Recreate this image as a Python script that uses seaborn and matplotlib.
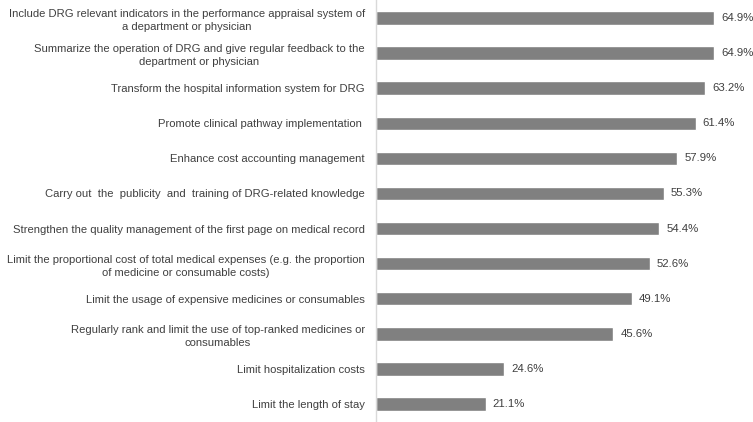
import pandas as pd
import seaborn as sns
from matplotlib import pyplot as plt

# Medidas de gestion DRG (porcentaje de hospitales)
medidas = [
    "Include DRG relevant indicators in the performance appraisal system of\na department or physician",
    "Summarize the operation of DRG and give regular feedback to the\ndepartment or physician",
    "Transform the hospital information system for DRG",
    "Promote clinical pathway implementation ",
    "Enhance cost accounting management",
    "Carry out  the  publicity  and  training of DRG-related knowledge",
    "Strengthen the quality management of the first page on medical record",
    "Limit the proportional cost of total medical expenses (e.g. the proportion\nof medicine or consumable costs)",
    "Limit the usage of expensive medicines or consumables",
    "Regularly rank and limit the use of top-ranked medicines or\nconsumables",
    "Limit hospitalization costs",
    "Limit the length of stay",
]
porcentajes = [64.9, 64.9, 63.2, 61.4, 57.9, 55.3, 54.4, 52.6, 49.1, 45.6, 24.6, 21.1]

df = pd.DataFrame({"medida": medidas, "pct": porcentajes})

sns.set_style("white")
plt.rcParams['font.family'] = ['Liberation Sans', 'DejaVu Sans']

fig = plt.figure(figsize=(7.53, 4.22), dpi=100)
ax = fig.add_axes([0.4993, 0.0, 0.5007, 1.0])
sns.barplot(data=df, x="pct", y="medida", orient="h", color="#808080",
            width=0.38, saturation=1, ax=ax)

ax.bar_label(ax.containers[0], labels=[f"{v:.1f}%" for v in porcentajes],
             padding=5, fontsize=8.2, color="#404040")

ax.set_xlim(0, 72.4)
ax.set_ylim(11.51, -0.51)
ax.set_xlabel("")
ax.set_ylabel("")
ax.set_xticks([])
for s in ["top", "right", "bottom"]:
    ax.spines[s].set_visible(False)
ax.spines["left"].set_color("#d9d9d9")
ax.spines["left"].set_linewidth(1)
ax.tick_params(axis="y", length=0, pad=8, labelsize=8.1, labelcolor="#404040")
for t in ax.get_yticklabels():
    t.set_multialignment("center")
    t.set_linespacing(1.4)

fig.savefig("out.png", dpi=100)
